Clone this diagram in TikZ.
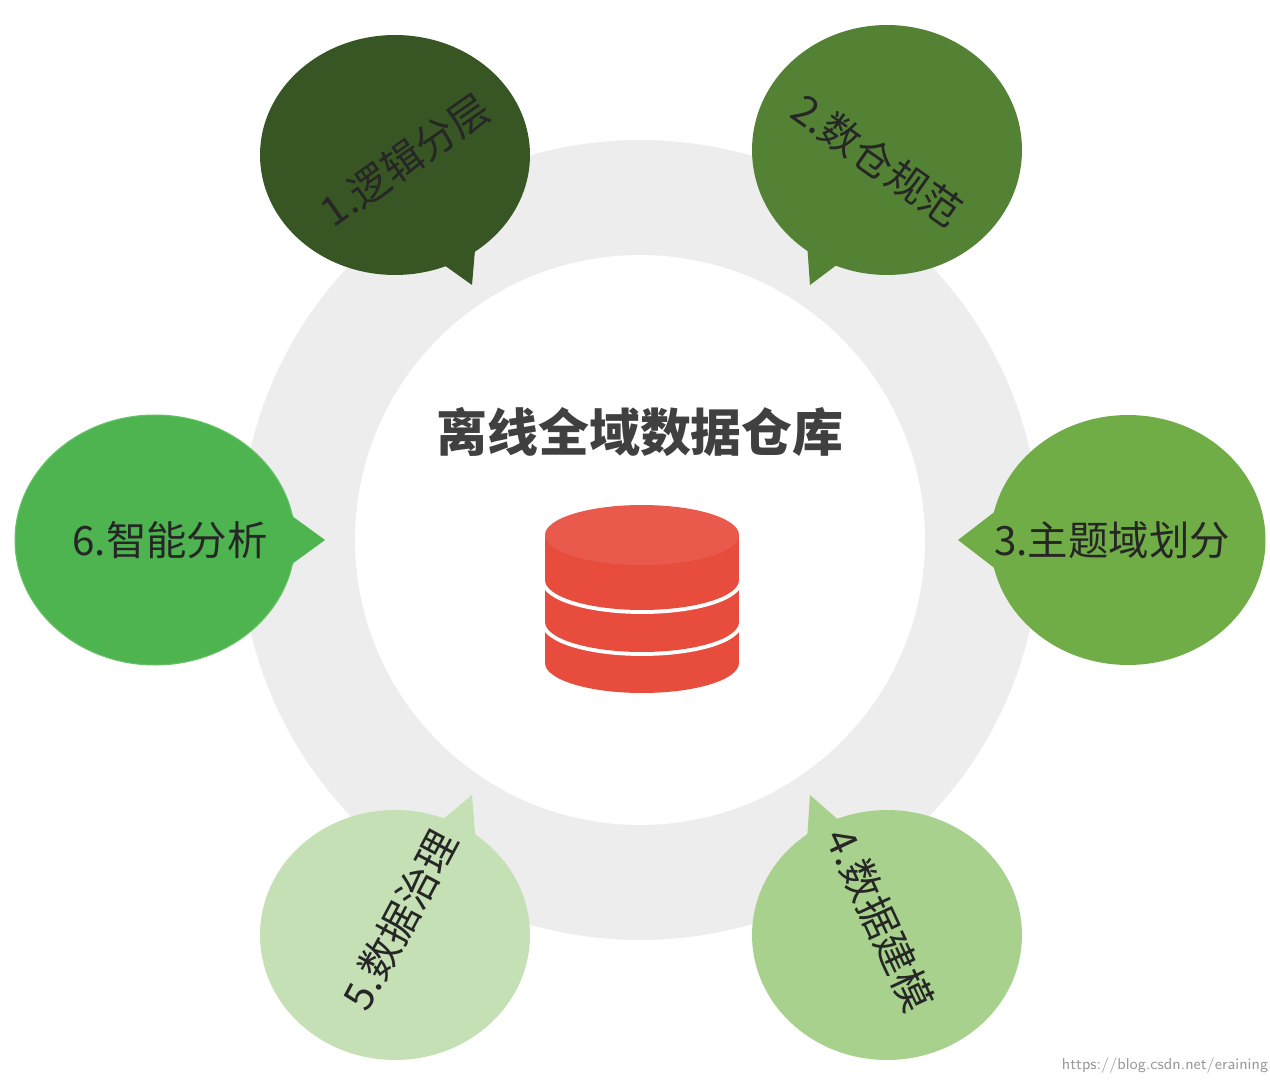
\documentclass[tikz,border=0pt]{standalone}
\usepackage{fontspec}
\newfontfamily\cjk{Noto Sans CJK SC}
\begin{document}
\begin{tikzpicture}[x=0.02cm,y=-0.02cm]
\tikzset{lbl/.style={font=\cjk\fontsize{23}{27}\selectfont,text=black!85}}
\definecolor{cA}{HTML}{375623}
\definecolor{cB}{HTML}{548235}
\definecolor{cC}{HTML}{70AD47}
\definecolor{cD}{HTML}{A9D18E}
\definecolor{cE}{HTML}{C5E0B4}
\definecolor{cF}{HTML}{4DB44F}
\definecolor{red1}{HTML}{E84C3D}
\useasboundingbox (0,0) rectangle (1270,1084);
\fill[white] (0,0) rectangle (1270,1084);
% ring
\fill[black!7] (640,540) circle[radius=8cm];
\fill[white] (640,540) circle[radius=5.7cm];
\node[font=\cjk\bfseries\fontsize{29}{33}\selectfont,text=black!75] (title) at (640,432) {离线全域数据仓库};
% cylinder
\foreach \t/\b in {622/663,580/622,535/580}{
  \draw[white,line width=4.5pt] (642,\b) ellipse[x radius=1.94cm,y radius=0.6cm];
  \fill[red1] (545,\t) rectangle (739,\b);
  \fill[red1] (642,\b) ellipse[x radius=1.94cm,y radius=0.6cm];
}
\fill[red1!92!white] (642,535) ellipse[x radius=1.94cm,y radius=0.6cm];
% bubbles
\fill[cA] (395,155) ellipse[x radius=2.7cm,y radius=2.4cm];
\fill[cA] (430,255)--(472,285)--(478,215)--cycle;
\node[lbl,rotate=35] (b1) at (405,160) {1.逻辑分层};
\fill[cB] (887,150) ellipse[x radius=2.7cm,y radius=2.5cm];
\fill[cB] (850,255)--(810,285)--(805,215)--cycle;
\node[lbl,rotate=-35] (b2) at (877,160) {2.数仓规范};
\fill[cC] (1128,540) ellipse[x radius=2.75cm,y radius=2.5cm];
\fill[cC] (1010,500)--(958,540)--(1010,580)--cycle;
\node[lbl] (b3) at (1112,540) {3.主题域划分};
\fill[cF] (155,540) ellipse[x radius=2.8cm,y radius=2.5cm];
\draw[green!60!black!60,line width=0.6pt] (155,540) ellipse[x radius=2.8cm,y radius=2.5cm];
\fill[cF] (270,500)--(325,540)--(270,580)--cycle;
\node[lbl] (b6) at (170,540) {6.智能分析};
\fill[cE] (395,935) ellipse[x radius=2.7cm,y radius=2.5cm];
\fill[cE] (430,830)--(472,795)--(478,870)--cycle;
\node[lbl,rotate=62] (b5) at (400,920) {5.数据治理};
\fill[cD] (887,935) ellipse[x radius=2.7cm,y radius=2.5cm];
\fill[cD] (850,830)--(810,795)--(805,870)--cycle;
\node[lbl,rotate=-65] (b4) at (880,920) {4.数据建模};
\node[font=\sffamily\fontsize{9}{10}\selectfont,text=black!40] (wm) at (1165,1066) {https://blog.csdn.net/eraining};
\end{tikzpicture}
\end{document}
